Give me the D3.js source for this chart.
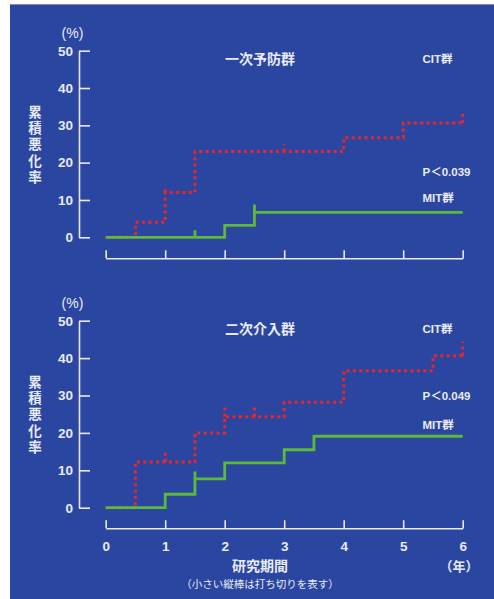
<!DOCTYPE html>
<html>
<head>
<meta charset="utf-8">
<script src="https://cdn.jsdelivr.net/npm/d3@7"></script>
<style>
  body { margin: 0; background: #fff; }
  text { font-family: "Liberation Sans", "Noto Sans CJK JP", sans-serif; fill: #e8ebf4; }
</style>
</head>
<body>
<script>
// values
const yTicks = [0, 10, 20, 30, 40, 50];
const xTicks = [0, 1, 2, 3, 4, 5, 6];
const titles = ["一次予防群", "二次介入群"];
const pValues = ["P＜0.039", "P＜0.049"];

// [year, %] step points
const citPrimary = [[0, 0], [0.5, 4], [1, 12], [1.5, 23], [4, 26.7], [5, 30.6], [6, 30.6]];
const mitPrimary = [[0, 0], [2, 3.2], [2.5, 6.7], [6, 6.7]];
const citSecondary = [[0, 0], [0.5, 12.2], [1.5, 20], [2, 24.3], [3, 28.2], [4, 36.6], [5.5, 40.6], [6, 40.6]];
const mitSecondary = [[0, 0], [1, 3.6], [1.5, 7.7], [2, 12], [3, 15.5], [3.5, 19.1], [6, 19.1]];

// censor marks [year, from %, to %]
const citPrimaryCens = [[1, 12, 13.8], [3, 23, 25], [6, 30.6, 34]];
const mitPrimaryCens = [[1.5, 0, 1.9], [2.5, 6.7, 8.8]];
const citSecondaryCens = [[1, 12.2, 14.7], [2, 24.3, 26.8], [2.5, 24.3, 26.8], [6, 40.6, 44.4]];
const mitSecondaryCens = [[1.5, 7.7, 9.7]];

const w = 494, h = 599;
const svg = d3.select("body").append("svg")
  .attr("width", w)
  .attr("height", h);

svg.append("rect")
  .attr("x", 10).attr("y", 4)
  .attr("width", w - 10).attr("height", h - 4)
  .attr("fill", "#2b46a0");
svg.append("line")
  .attr("x1", 10).attr("x2", w)
  .attr("y1", 4.5).attr("y2", 4.5)
  .attr("stroke", "#8c86c6");

const xScale = d3.scaleLinear().domain([0, 6]).range([105.7, 462.7]);
const red = "#e8262c", green = "#5cba3a", axisCol = "#e8ebf4";

const panels = [
  { top: 50.7, bottom: 237.3, xAxisY: 258.3, cit: citPrimary, mit: mitPrimary,
    citC: citPrimaryCens, mitC: mitPrimaryCens, labels: false },
  { top: 320.7, bottom: 507.7, xAxisY: 528.3, cit: citSecondary, mit: mitSecondary,
    citC: citSecondaryCens, mitC: mitSecondaryCens, labels: true }
];

panels.forEach((p, i) => {
  const yScale = d3.scaleLinear().domain([0, 50]).range([p.bottom, p.top]);
  const g = svg.append("g");

  const yAxis = d3.axisLeft(yScale)
    .tickValues(yTicks)
    .tickSizeInner(-11)
    .tickSizeOuter(0)
    .tickPadding(6);
  const ya = g.append("g")
    .attr("transform", "translate(79,0)")
    .call(yAxis);
  ya.selectAll("path, line").attr("stroke", axisCol).attr("stroke-width", 1.6);
  ya.selectAll("text")
    .style("font-size", "13.5px")
    .style("font-weight", "bold")
    .attr("fill", axisCol);

  const xAxis = d3.axisBottom(xScale)
    .tickValues(xTicks)
    .tickSizeInner(-8)
    .tickSizeOuter(0)
    .tickPadding(13)
    .tickFormat(p.labels ? d3.format("d") : () => "");
  const xa = g.append("g")
    .attr("transform", `translate(0,${p.xAxisY})`)
    .call(xAxis);
  xa.selectAll("path, line").attr("stroke", axisCol).attr("stroke-width", 1.6);
  xa.selectAll("text")
    .style("font-size", "13.5px")
    .style("font-weight", "bold")
    .attr("fill", axisCol);

  const line = d3.line()
    .x(d => xScale(d[0]))
    .y(d => yScale(d[1]))
    .curve(d3.curveStepAfter);

  g.append("path")
    .datum(p.cit)
    .attr("d", line)
    .attr("fill", "none")
    .attr("stroke", red)
    .attr("stroke-width", 3)
    .attr("stroke-dasharray", "3,3.4");
  g.selectAll(".cc")
    .data(p.citC)
    .enter().append("line")
    .attr("x1", d => xScale(d[0])).attr("x2", d => xScale(d[0]))
    .attr("y1", d => yScale(d[1])).attr("y2", d => yScale(d[2]))
    .attr("stroke", red)
    .attr("stroke-width", 3)
    .attr("stroke-dasharray", "3,3.4");

  g.append("path")
    .datum(p.mit)
    .attr("d", line)
    .attr("fill", "none")
    .attr("stroke", green)
    .attr("stroke-width", 2.8);
  g.selectAll(".mc")
    .data(p.mitC)
    .enter().append("line")
    .attr("x1", d => xScale(d[0])).attr("x2", d => xScale(d[0]))
    .attr("y1", d => yScale(d[1])).attr("y2", d => yScale(d[2]))
    .attr("stroke", green)
    .attr("stroke-width", 2.8);

  // labels
  g.append("text")
    .attr("x", 72.5).attr("y", p.top - 13)
    .attr("text-anchor", "middle")
    .style("font-size", "14px")
    .text("(%)");

  const yt = g.append("text")
    .attr("x", 35)
    .attr("text-anchor", "middle")
    .style("font-size", "13.5px")
    .style("font-weight", "bold");
  "累積悪化率".split("").forEach((c, k) => {
    yt.append("tspan")
      .attr("x", 35)
      .attr("y", p.top + 66 + k * 16.3)
      .text(c);
  });

  g.append("text")
    .attr("x", 260).attr("y", p.top + 13)
    .attr("text-anchor", "middle")
    .style("font-size", "14px")
    .style("font-weight", "bold")
    .text(titles[i]);

  g.append("text")
    .attr("x", 422.5).attr("y", p.top + 12)
    .style("font-size", "11.5px")
    .style("font-weight", "bold")
    .text("CIT群");

  g.append("text")
    .attr("x", 422.5).attr("y", yScale(i ? 30 : 17.5) + 4)
    .style("font-size", "11.5px")
    .style("font-weight", "bold")
    .text(pValues[i]);

  g.append("text")
    .attr("x", 422.5).attr("y", yScale(i ? 22 : 10.5) + 4)
    .style("font-size", "11.5px")
    .style("font-weight", "bold")
    .text("MIT群");
});

svg.append("text")
  .attr("x", 260).attr("y", 571)
  .attr("text-anchor", "middle")
  .style("font-size", "14px")
  .style("font-weight", "bold")
  .text("研究期間");

svg.append("text")
  .attr("x", 459).attr("y", 571)
  .attr("text-anchor", "middle")
  .style("font-size", "13px")
  .style("font-weight", "bold")
  .text("（年）");

svg.append("text")
  .attr("x", 260).attr("y", 588)
  .attr("text-anchor", "middle")
  .style("font-size", "10.5px")
  .text("（小さい縦棒は打ち切りを表す）");
</script>
</body>
</html>
